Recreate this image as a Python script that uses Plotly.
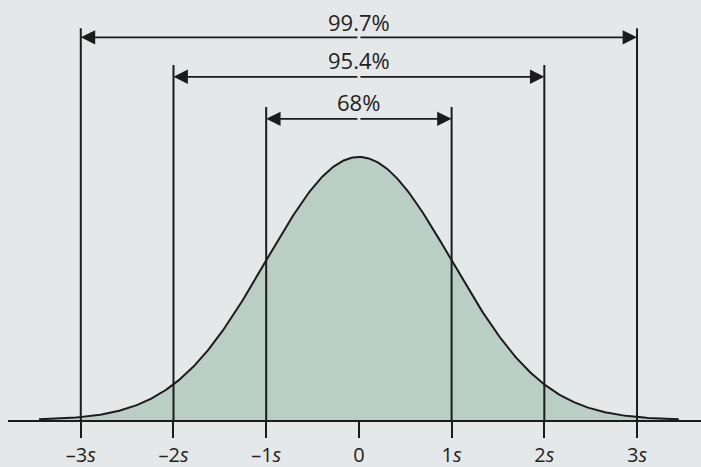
import numpy as np
import plotly.graph_objects as go

# Standard-deviation marks and their labels
sigma_marks = [-3, -2, -1, 0, 1, 2, 3]
sigma_labels = ["\u20133<i>s</i>", "\u20132<i>s</i>", "\u20131<i>s</i>", "0",
                "1<i>s</i>", "2<i>s</i>", "3<i>s</i>"]

# Share of the distribution inside +/- k standard deviations
bracket_k = [3, 2, 1]
bracket_pct = ["99.7%", "95.4%", "68%"]

# Layout of the brackets (heights relative to the peak of the curve = 1)
bracket_top = [1.49, 1.35, 1.19]
arrow_level = [1.455, 1.305, 1.145]
label_level = [1.515, 1.37, 1.21]

INK = "#1c1c1c"
TEXT = "#222222"
FILL = "#b9cfc5"
BG = "#e5e8e8"
FONT = "Open Sans"

# Bell curve (relative density, peak = 1)
x = np.linspace(-3.45, 3.45, 400)
y = np.exp(-x ** 2 / 2)

fig = go.Figure()
fig.add_trace(go.Scatter(
    x=x, y=y, mode="lines", fill="tozeroy", fillcolor=FILL,
    line=dict(color=INK, width=2), hoverinfo="skip", showlegend=False,
))

shapes = []
annotations = []
for k, top, ay, ly, pct in zip(bracket_k, bracket_top, arrow_level, label_level, bracket_pct):
    for side in (-k, k):
        shapes.append(dict(type="line", xref="x", yref="y", x0=side, x1=side,
                           y0=0, y1=top, line=dict(color=INK, width=2)))
        annotations.append(dict(x=side, y=ay, ax=0, ay=ay, axref="x", ayref="y",
                                xref="x", yref="y", text="", showarrow=True,
                                arrowhead=2, arrowsize=1.6, arrowwidth=1.8,
                                arrowcolor=INK, standoff=0, startstandoff=0))
    annotations.append(dict(x=0, y=ly, xref="x", yref="y", text=pct, showarrow=False,
                            font=dict(family=FONT, size=22, color=TEXT),
                            xanchor="center", yanchor="middle"))

fig.update_layout(
    width=701, height=467,
    margin=dict(l=8, r=0, t=0, b=47),
    paper_bgcolor=BG, plot_bgcolor=BG,
    shapes=shapes, annotations=annotations,
    xaxis=dict(range=[-3.785, 3.690], showgrid=False, zeroline=False,
               showline=True, linecolor=INK, linewidth=2,
               tickmode="array", tickvals=sigma_marks, ticktext=sigma_labels,
               ticks="outside", ticklen=16, tickwidth=2, tickcolor=INK,
               tickfont=dict(family=FONT, size=20, color=TEXT)),
    yaxis=dict(range=[0, 1.597], visible=False, showgrid=False, zeroline=False),
    hovermode=False,
)

fig.write_html("out.html", config={"displayModeBar": False})
